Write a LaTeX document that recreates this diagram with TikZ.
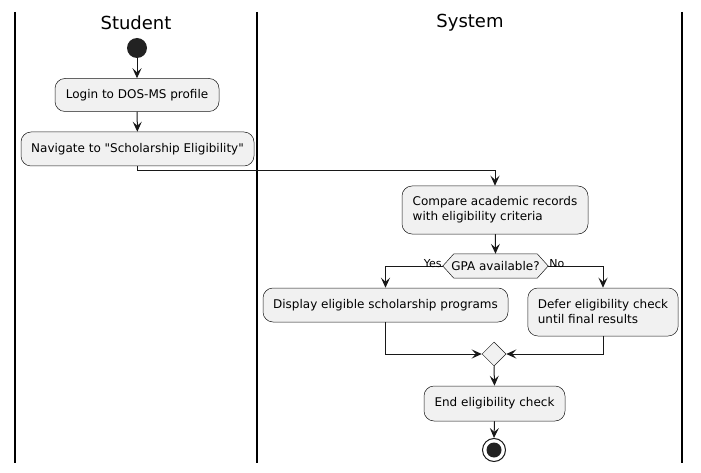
\documentclass[tikz,border=0pt]{standalone}
\usepackage{fontspec}
\setmainfont{DejaVu Sans}[Ligatures=TeXOff]
\usetikzlibrary{arrows.meta,shapes.geometric}
\definecolor{boxf}{HTML}{F1F1F1}
\definecolor{linec}{HTML}{181818}
\definecolor{dotc}{HTML}{222222}
\tikzset{
  act/.style={draw=linec, fill=boxf, line width=0.5pt, rounded corners=10pt,
    font=\fontsize{12}{15}\selectfont, inner xsep=10pt, inner ysep=0pt, anchor=center},
  flow/.style={draw=linec, line width=1pt, -{Stealth[length=10pt,width=9pt,inset=4pt]}},
  plain/.style={draw=linec, line width=1pt},
  lane/.style={draw=black, line width=1.6pt},
  lbl/.style={font=\fontsize{11}{13}\selectfont, inner sep=0pt},
  title/.style={font=\fontsize{18}{21}\selectfont, inner sep=0pt}
}
\begin{document}
\begin{tikzpicture}[x=1pt,y=-1pt]
\useasboundingbox (0,0) rectangle (701,473);
% lanes
\coordinate (l1t) at (15,12); \coordinate (l1b) at (15,463);
\coordinate (l2t) at (257,12); \coordinate (l2b) at (257,463);
\coordinate (l3t) at (682,12); \coordinate (l3b) at (682,463);
\draw[lane] (l1t) -- (l1b);
\draw[lane] (l2t) -- (l2b);
\draw[lane] (l3t) -- (l3b);
\node[title] (tstu) at (136,22.5) {Student};
\node[title] (tsys) at (470,22.5) {System};
% start
\node[circle, fill=dotc, minimum size=20pt, inner sep=0pt] (start) at (137,48) {};
\node[act, minimum width=164pt, minimum height=33pt] (login) at (137,95) {Login to DOS-MS profile};
\node[act, minimum width=233pt, minimum height=34pt] (nav) at (137.5,149) {Navigate to "Scholarship Eligibility"};
\node[act, minimum width=186pt, minimum height=48pt, align=left] (cmp) at (495,210) {Compare academic records\\with eligibility criteria};
% hexagon decision
\node[font=\fontsize{12}{14}\selectfont, minimum width=105pt, minimum height=24pt, inner sep=0pt] (gpa) at (495.5,266) {GPA available?};
\path[draw=linec, fill=boxf, line width=0.5pt] (gpa.west) -- ([xshift=11pt]gpa.north west) -- ([xshift=-11pt]gpa.north east) -- (gpa.east) -- ([xshift=-11pt]gpa.south east) -- ([xshift=11pt]gpa.south west) -- cycle;
\node[font=\fontsize{12}{14}\selectfont, inner sep=0pt] at (gpa.center) {GPA available?};
\node[act, minimum width=245pt, minimum height=34pt] (disp) at (385.5,305) {Display eligible scholarship programs};
\node[act, minimum width=150pt, minimum height=48pt, align=left] (defer) at (603,312) {Defer eligibility check\\until final results};
\node[diamond, draw=linec, fill=boxf, line width=0.5pt, minimum width=24pt, minimum height=24pt, inner sep=0pt] (merge) at (494,354) {};
\node[act, minimum width=141pt, minimum height=35pt] (endb) at (494.5,403.5) {End eligibility check};
\node[circle, draw=linec, fill=white, line width=1pt, minimum size=23pt, inner sep=0pt] (stop) at (494,450) {};
\node[circle, fill=dotc, minimum size=15pt, inner sep=0pt] (stopdot) at (stop.center) {};
% connectors
\draw[flow] (start) -- (login);
\draw[flow] (login) -- (nav);
\coordinate (navturn) at (137.5,171);
\draw[flow] (nav.south) -- (navturn) -| (cmp.north);
\draw[flow] (cmp) -- (gpa.north);
\draw[flow] (gpa.west) -| (disp.north);
\draw[flow] (gpa.east) -| (defer.north);
\node[lbl, anchor=south east] (yes) at ([xshift=-1pt,yshift=-1.5pt]gpa.west) {Yes};
\node[lbl, anchor=south west] (no) at ([xshift=1pt,yshift=-1.5pt]gpa.east) {No};
\draw[flow] (disp.south) |- (merge.west);
\draw[flow] (defer.south) |- (merge.east);
\draw[flow] (merge.south) -- (endb.north);
\draw[flow] (endb.south) -- (stop.north);
\end{tikzpicture}
\end{document}
